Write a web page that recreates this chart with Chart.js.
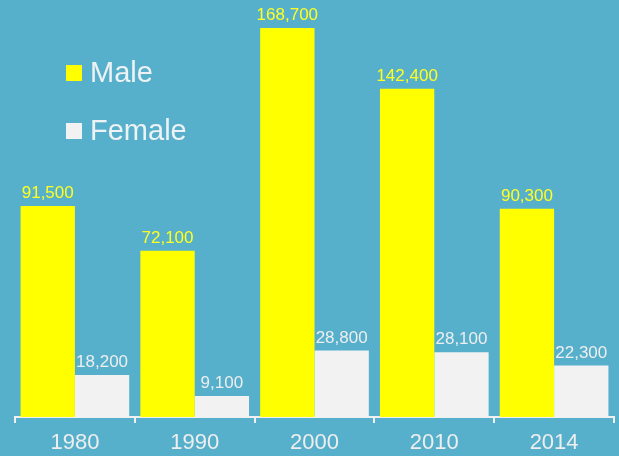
<!DOCTYPE html>
<html>
<head>
<meta charset="utf-8">
<script src="https://cdn.jsdelivr.net/npm/chart.js@4.4.1/dist/chart.umd.min.js"></script>
<style>
  html, body { margin: 0; padding: 0; background: #56B0CC; }
  #wrap { width: 619px; height: 456px; }
</style>
</head>
<body>
<div id="wrap"><canvas id="grafico" width="619" height="456"></canvas></div>
<script>
// dados
const anos = ['1980', '1990', '2000', '2010', '2014'];
const homens = [91500, 72100, 168700, 142400, 90300];
const mulheres = [18200, 9100, 28800, 28100, 22300];

const fonte = '"Liberation Sans", Arial, sans-serif';

// rótulos de valor em cima das barras
const rotulos = {
    id: 'rotulos',
    afterDatasetsDraw(chart) {
        const ctx = chart.ctx;
        ctx.save();
        ctx.font = '17px ' + fonte;
        ctx.textAlign = 'center';
        ctx.textBaseline = 'alphabetic';
        chart.data.datasets.forEach((ds, i) => {
            chart.getDatasetMeta(i).data.forEach((bar, j) => {
                ctx.fillStyle = ds.corRotulo;
                ctx.fillText(ds.data[j].toLocaleString('en-US'), bar.x, bar.y - 8);
            });
        });
        ctx.restore();
    }
};

// legenda dentro da área do gráfico
const legenda = {
    id: 'legenda',
    afterDraw(chart) {
        const ctx = chart.ctx;
        ctx.save();
        ctx.font = '29px ' + fonte;
        ctx.textBaseline = 'alphabetic';
        chart.data.datasets.forEach((ds, i) => {
            const y = 82 + i * 58;
            ctx.fillStyle = ds.backgroundColor;
            ctx.fillRect(66, y - 17, 16, 16);
            ctx.fillStyle = '#EEF2F4';
            ctx.fillText(ds.label, 90, y);
        });
        ctx.restore();
    }
};

const ctx = document.getElementById('grafico').getContext('2d');
const chart = new Chart(ctx, {
    type: 'bar',
    data: {
        labels: anos,
        datasets: [{
            label: 'Male',
            data: homens,
            backgroundColor: '#FFFF00',
            corRotulo: '#FFFF22',
            borderWidth: 0
        }, {
            label: 'Female',
            data: mulheres,
            backgroundColor: '#F2F2F2',
            corRotulo: '#EEEEEE',
            borderWidth: 0
        }]
    },
    options: {
        responsive: false,
        animation: false,
        layout: { padding: { left: 15, right: 5, top: 2, bottom: 0 } },
        plugins: {
            legend: { display: false },
            tooltip: { enabled: false }
        },
        datasets: {
            bar: { categoryPercentage: 0.907, barPercentage: 1.0 }
        },
        scales: {
            x: {
                afterFit(scale) { scale.height = 39; },
                grid: {
                    offset: true,
                    drawOnChartArea: false,
                    drawTicks: true,
                    tickLength: 6,
                    color: '#F0F0F0',
                    lineWidth: 2
                },
                border: { display: true, color: '#F0F0F0', width: 2 },
                ticks: {
                    color: '#EEEEEE',
                    font: { family: fonte, size: 22 },
                    padding: 7
                }
            },
            y: {
                display: false,
                min: 0,
                max: 180000
            }
        }
    },
    plugins: [rotulos, legenda]
});
</script>
</body>
</html>
